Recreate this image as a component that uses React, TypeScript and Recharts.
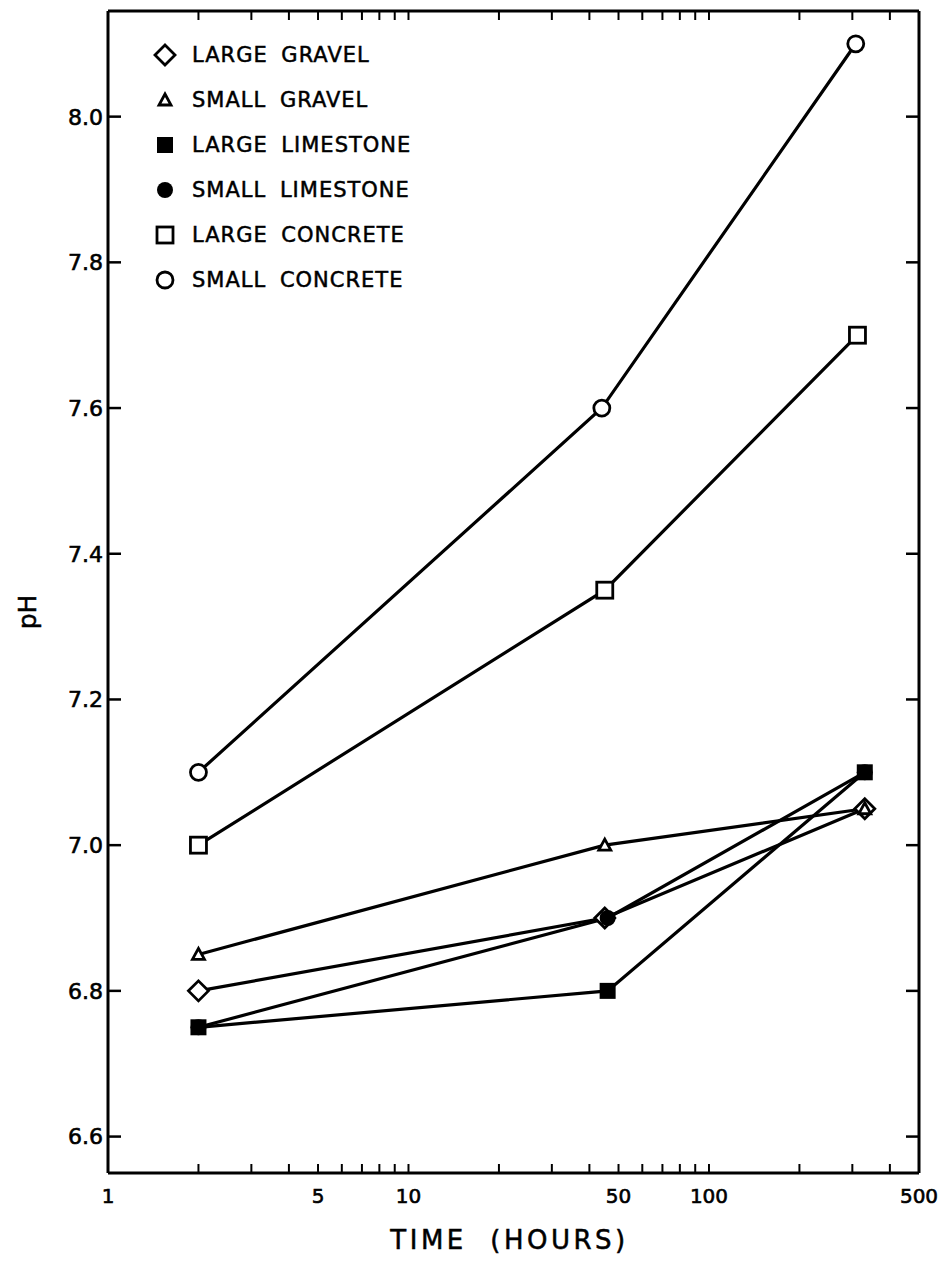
import React from 'react';
import { LineChart, Line, XAxis, YAxis, Legend } from 'recharts';

const FONT = '"DejaVu Sans", "Liberation Sans", sans-serif';
const INK = '#000';

// readings, time in hours vs pH
const largeGravel = [
  { t: 2, ph: 6.8 },
  { t: 45, ph: 6.9 },
  { t: 330, ph: 7.05 },
];
const smallGravel = [
  { t: 2, ph: 6.85 },
  { t: 45, ph: 7.0 },
  { t: 330, ph: 7.05 },
];
const largeLimestone = [
  { t: 2, ph: 6.75 },
  { t: 46, ph: 6.8 },
  { t: 330, ph: 7.1 },
];
const smallLimestone = [
  { t: 2, ph: 6.75 },
  { t: 46, ph: 6.9 },
  { t: 330, ph: 7.1 },
];
const largeConcrete = [
  { t: 2, ph: 7.0 },
  { t: 45, ph: 7.35 },
  { t: 312, ph: 7.7 },
];
const smallConcrete = [
  { t: 2, ph: 7.1 },
  { t: 44, ph: 7.6 },
  { t: 308, ph: 8.1 },
];

const X_TICKS = [1, 2, 3, 4, 5, 6, 7, 8, 9, 10, 20, 30, 40, 50, 60, 70, 80, 90, 100, 200, 300, 400, 500];
const X_LABELS = [1, 5, 10, 50, 100, 500];
const Y_TICKS = [6.6, 6.8, 7.0, 7.2, 7.4, 7.6, 7.8, 8.0];

type Shape = 'diamond' | 'triangle' | 'fsquare' | 'fcircle' | 'square' | 'circle';

const SERIES: { name: string; data: { t: number; ph: number }[]; shape: Shape }[] = [
  { name: 'LARGE GRAVEL', data: largeGravel, shape: 'diamond' },
  { name: 'SMALL GRAVEL', data: smallGravel, shape: 'triangle' },
  { name: 'LARGE LIMESTONE', data: largeLimestone, shape: 'fsquare' },
  { name: 'SMALL LIMESTONE', data: smallLimestone, shape: 'fcircle' },
  { name: 'LARGE CONCRETE', data: largeConcrete, shape: 'square' },
  { name: 'SMALL CONCRETE', data: smallConcrete, shape: 'circle' },
];

function Marker({ shape, cx, cy }: { shape: Shape; cx: number; cy: number }) {
  const sw = 2.8;
  switch (shape) {
    case 'diamond':
      return (
        <path
          d={`M${cx} ${cy - 10}L${cx + 10} ${cy}L${cx} ${cy + 10}L${cx - 10} ${cy}Z`}
          fill="#fff"
          stroke={INK}
          strokeWidth={sw}
        />
      );
    case 'triangle':
      return (
        <path
          d={`M${cx} ${cy - 6}L${cx + 6} ${cy + 5}L${cx - 6} ${cy + 5}Z`}
          fill="#fff"
          stroke={INK}
          strokeWidth={sw}
        />
      );
    case 'fsquare':
      return <rect x={cx - 8} y={cy - 8} width={16} height={16} fill={INK} />;
    case 'fcircle':
      return <circle cx={cx} cy={cy} r={8} fill={INK} />;
    case 'square':
      return <rect x={cx - 8} y={cy - 8} width={16} height={16} fill="#fff" stroke={INK} strokeWidth={sw} />;
    default:
      return <circle cx={cx} cy={cy} r={8} fill="#fff" stroke={INK} strokeWidth={sw} />;
  }
}

// ticks point into the plot, like the original drafting
function BottomTick({ x, y, payload }: any) {
  const v = payload.value;
  return (
    <g>
      <line x1={x} y1={y} x2={x} y2={y - 9} stroke={INK} strokeWidth={2} />
      {X_LABELS.includes(v) && (
        <text
          x={x}
          y={y + 30}
          textAnchor="middle"
          fontSize={20}
          fontFamily={FONT}
          fill={INK}
          stroke={INK}
          strokeWidth={0.6}
        >
          {v}
        </text>
      )}
    </g>
  );
}

function TopTick({ x, y }: any) {
  return <line x1={x} y1={y} x2={x} y2={y + 9} stroke={INK} strokeWidth={2} />;
}

function LeftTick({ x, y, payload }: any) {
  return (
    <g>
      <line x1={x} y1={y} x2={x + 13} y2={y} stroke={INK} strokeWidth={2.5} />
      <text
        x={x - 5}
        y={y}
        dy="0.36em"
        textAnchor="end"
        fontSize={22}
        fontFamily={FONT}
        fill={INK}
        stroke={INK}
        strokeWidth={0.6}
      >
        {Number(payload.value).toFixed(1)}
      </text>
    </g>
  );
}

function RightTick({ x, y }: any) {
  return <line x1={x} y1={y} x2={x - 13} y2={y} stroke={INK} strokeWidth={2.5} />;
}

function LegendBox() {
  return (
    <div style={{ fontFamily: FONT, color: INK }}>
      {SERIES.map((s) => (
        <div key={s.name} style={{ display: 'flex', alignItems: 'center', height: 45 }}>
          <svg width={24} height={24}>
            <Marker shape={s.shape} cx={12} cy={12} />
          </svg>
          <span
            style={{
              marginLeft: 15,
              fontSize: 21,
              letterSpacing: 1,
              wordSpacing: 6,
              WebkitTextStroke: '0.5px #000',
            }}
          >
            {s.name}
          </span>
        </div>
      ))}
    </div>
  );
}

export default function App() {
  return (
    <div style={{ position: 'absolute', left: 0, top: 0, width: 949, height: 1262, background: '#fff' }}>
      <LineChart width={949} height={1262} margin={{ top: 0, right: 0, bottom: 0, left: 0 }}>
        <XAxis
          dataKey="t"
          type="number"
          scale="log"
          domain={[1, 500]}
          allowDataOverflow
          ticks={X_TICKS}
          interval={0}
          height={89}
          tickSize={0}
          tickMargin={0}
          tickLine={false}
          axisLine={{ stroke: INK, strokeWidth: 3 }}
          tick={(p: any) => <BottomTick {...p} />}
          label={{
            content: ({ viewBox }: any) => (
              <text
                x={viewBox.x + viewBox.width / 2 - 4}
                y={viewBox.y + 76}
                textAnchor="middle"
                fontSize={26}
                fontFamily={FONT}
                letterSpacing={3.5}
                fill={INK}
                stroke={INK}
                strokeWidth={0.5}
                style={{ whiteSpace: 'pre' }}
              >
                {'TIME  (HOURS)'}
              </text>
            ),
          }}
        />
        <XAxis
          xAxisId="top"
          orientation="top"
          dataKey="t"
          type="number"
          scale="log"
          domain={[1, 500]}
          allowDataOverflow
          ticks={X_TICKS}
          interval={0}
          height={11}
          tickSize={0}
          tickMargin={0}
          tickLine={false}
          axisLine={{ stroke: INK, strokeWidth: 3 }}
          tick={(p: any) => <TopTick {...p} />}
        />
        <YAxis
          type="number"
          domain={[6.55, 8.145]}
          allowDataOverflow
          ticks={Y_TICKS}
          interval={0}
          width={108}
          tickSize={0}
          tickMargin={0}
          tickLine={false}
          axisLine={{ stroke: INK, strokeWidth: 3 }}
          tick={(p: any) => <LeftTick {...p} />}
          label={{
            content: ({ viewBox }: any) => {
              const cy = viewBox.y + viewBox.height / 2 + 20;
              return (
                <text
                  x={27}
                  y={cy}
                  textAnchor="middle"
                  dominantBaseline="central"
                  fontSize={25}
                  fontFamily={FONT}
                  fill={INK}
                  stroke={INK}
                  strokeWidth={0.5}
                  transform={`rotate(-90 27 ${cy})`}
                >
                  pH
                </text>
              );
            },
          }}
        />
        <YAxis
          yAxisId="r"
          orientation="right"
          type="number"
          domain={[6.55, 8.145]}
          allowDataOverflow
          ticks={Y_TICKS}
          interval={0}
          width={30}
          tickSize={0}
          tickMargin={0}
          tickLine={false}
          axisLine={{ stroke: INK, strokeWidth: 3 }}
          tick={(p: any) => <RightTick {...p} />}
        />
        <Legend
          layout="vertical"
          align="center"
          verticalAlign="middle"
          content={() => <LegendBox />}
          wrapperStyle={{ left: 153, top: 32, width: 320, height: 270 }}
        />
        {SERIES.map((s) => (
          <Line
            key={s.name}
            data={s.data}
            dataKey="ph"
            name={s.name}
            type="linear"
            stroke={INK}
            strokeWidth={3.2}
            legendType="none"
            isAnimationActive={false}
            dot={(p: any) => (
              <g key={`${s.name}-${p.index}`}>
                <Marker shape={s.shape} cx={p.cx} cy={p.cy} />
              </g>
            )}
          />
        ))}
      </LineChart>
    </div>
  );
}
